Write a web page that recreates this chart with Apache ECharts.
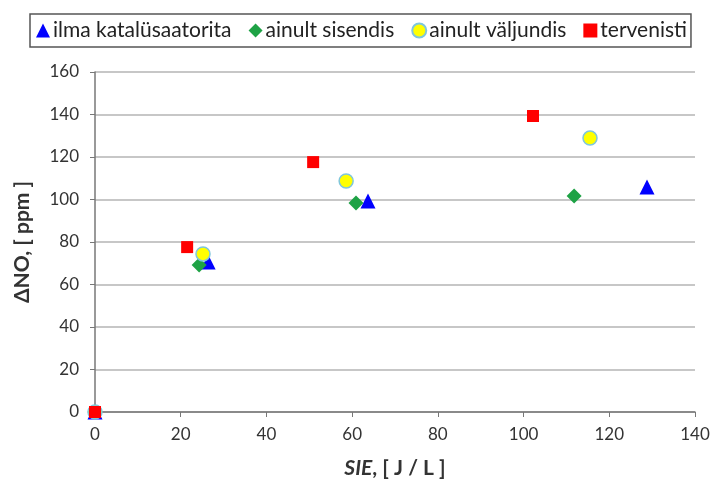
<!DOCTYPE html>
<html><head><meta charset="utf-8">
<script src="https://cdn.jsdelivr.net/npm/echarts@6/dist/echarts.min.js"></script>
<style>html,body{margin:0;padding:0;background:#fff}#c{width:712px;height:479px}</style>
</head><body><div id="c"></div>
<script>
const seriesNames = ['ilma katalüsaatorita', 'ainult sisendis', 'ainult väljundis', 'tervenisti'];
const triX = [0, 26.4, 63.7, 128.8];
const triY = [0, 70.6, 99.3, 105.9];
const diaX = [0, 24.3, 60.9, 111.8];
const diaY = [0, 69.2, 98.4, 101.6];
const cirX = [0, 25.2, 58.6, 115.5];
const cirY = [0, 74.4, 108.7, 128.9];
const sqX = [0, 21.5, 50.9, 102.2];
const sqY = [0, 77.6, 117.6, 139.3];
const xTicks = [0, 20, 40, 60, 80, 100, 120, 140];
const yTicks = [0, 20, 40, 60, 80, 100, 120, 140, 160];

const pts = (xs, ys) => xs.map((x, i) => [x, ys[i]]);
const font = 'Lato, "Open Sans", sans-serif';
const chart = echarts.init(document.getElementById('c'));
chart.setOption({
  animation: false,
  textStyle: { fontFamily: font },
  legend: {
    left: 30, top: 14, width: 690,
    padding: [6, 4, 6, 6],
    borderColor: '#555', borderWidth: 1.5,
    itemGap: 17, itemWidth: 14, itemHeight: 14,
    textStyle: { fontSize: 21, color: '#222', fontFamily: font, padding: [0, 0, 0, -2] },
    data: [
      { name: seriesNames[0], icon: 'triangle' },
      { name: seriesNames[1], icon: 'diamond' },
      { name: seriesNames[2], icon: 'circle' },
      { name: seriesNames[3], icon: 'rect' }
    ]
  },
  grid: { left: 95, right: 17, top: 72, bottom: 67, outerBoundsMode: 'none', containLabel: false },
  xAxis: {
    type: 'value', min: 0, max: 140, interval: 20,
    axisLine: { show: true, lineStyle: { color: '#777', width: 1.5 } },
    axisTick: { show: true, inside: false, length: 5, lineStyle: { color: '#777' } },
    splitLine: { show: false },
    axisLabel: { fontSize: 17, color: '#333', margin: 14, fontFamily: font,
      formatter: v => xTicks.includes(v) ? String(v) : '' },
    name: '{b|SIE}{n|, [ J / L ]}', nameLocation: 'middle', nameGap: 46,
    nameTextStyle: { rich: {
      b: { fontSize: 21, fontWeight: 'bold', fontStyle: 'italic', color: '#333', fontFamily: font },
      n: { fontSize: 21, fontWeight: 'bold', color: '#333', fontFamily: font }
    } }
  },
  yAxis: {
    type: 'value', min: 0, max: 160, interval: 20,
    axisLine: { show: true, lineStyle: { color: '#777', width: 1.5 } },
    axisTick: { show: true, inside: false, length: 5, lineStyle: { color: '#777' } },
    splitLine: { show: true, lineStyle: { color: '#b5b5b5', width: 1.5 } },
    axisLabel: { fontSize: 17, color: '#333', margin: 16, fontFamily: font,
      formatter: v => yTicks.includes(v) ? String(v) : '' },
    name: 'ΔNO, [ ppm ]', nameLocation: 'middle', nameGap: 62,
    nameTextStyle: { fontSize: 21, fontWeight: 'bold', color: '#333', fontFamily: font }
  },
  series: [
    { name: seriesNames[0], type: 'scatter', symbol: 'triangle', symbolSize: 15,
      itemStyle: { color: '#0000ff', opacity: 1 }, data: pts(triX, triY) },
    { name: seriesNames[1], type: 'scatter', symbol: 'diamond', symbolSize: 15,
      itemStyle: { color: '#1ea245', opacity: 1 }, data: pts(diaX, diaY) },
    { name: seriesNames[2], type: 'scatter', symbol: 'circle', symbolSize: 14,
      itemStyle: { color: '#ffff00', borderColor: '#7fc6dc', borderWidth: 1.5, opacity: 1 }, data: pts(cirX, cirY) },
    { name: seriesNames[3], type: 'scatter', symbol: 'rect', symbolSize: 12,
      itemStyle: { color: '#ff0000', opacity: 1 }, data: pts(sqX, sqY) }
  ]
});
</script></body></html>
